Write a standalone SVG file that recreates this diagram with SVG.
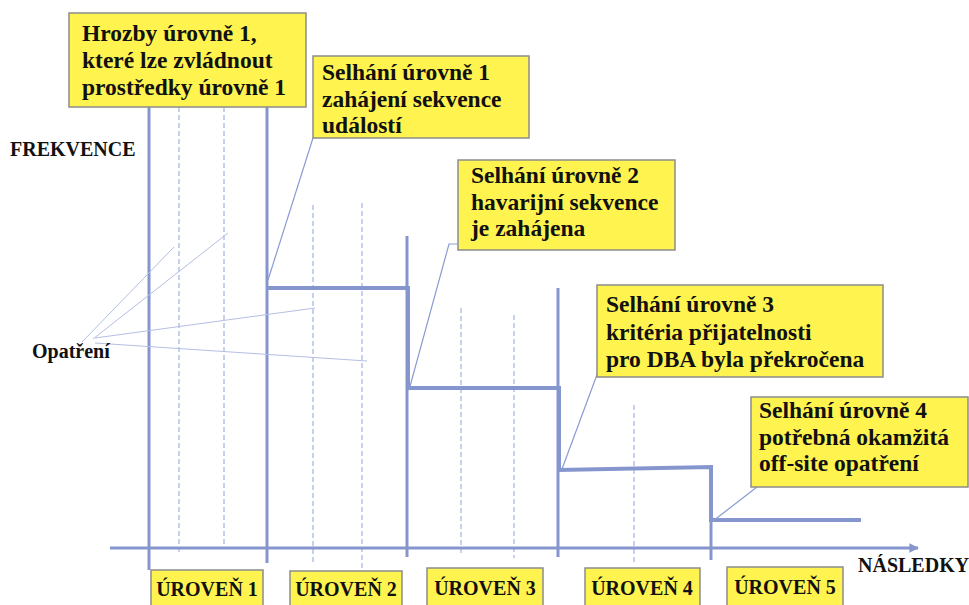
<svg xmlns="http://www.w3.org/2000/svg" width="969" height="605" viewBox="0 0 969 605" font-family="'Liberation Serif', 'DejaVu Serif', serif">
  <style>
    .bg { fill: #ffffff; }
    .box { fill: #fff44f; stroke: #8c8c8c; stroke-width: 1.5; }
    .t { font-weight: bold; fill: #111111; }
    .big { font-size: 23.5px; }
    .lab { font-size: 20px; }
    .div { stroke: #8596cf; stroke-width: 3; fill: none; }
    .step { stroke: #8596cf; stroke-width: 4; fill: none; stroke-linejoin: miter; }
    .dash { stroke: #8fa2dc; stroke-width: 1; stroke-dasharray: 5 3; fill: none; }
    .lead { stroke: #8a9bd3; stroke-width: 1.2; fill: none; }
    .faint { stroke: #b4bfe3; stroke-width: 1; fill: none; }
  </style>
  <defs>
    <marker id="arrowHead" viewBox="0 0 10 10" refX="9" refY="5" markerWidth="3.2" markerHeight="3.2" orient="auto" markerUnits="strokeWidth">
      <path d="M0,0 L10,5 L0,10 z" fill="#8596cf"/>
    </marker>
  </defs>

  <rect class="bg" x="0" y="0" width="969" height="605"/>

  <!-- axes, level dividers, frequency steps and leader lines -->
  <g id="connectors">
    <!-- subdivision guides -->
    <line class="dash" x1="179" y1="107" x2="179" y2="553"/>
    <line class="dash" x1="224" y1="107" x2="224" y2="545"/>
    <line class="dash" x1="313" y1="205" x2="313" y2="565"/>
    <line class="dash" x1="362" y1="203" x2="362" y2="572"/>
    <line class="dash" x1="461" y1="308" x2="461" y2="555"/>
    <line class="dash" x1="514" y1="315" x2="514" y2="558"/>
    <line class="dash" x1="634" y1="405" x2="634" y2="562"/>

    <!-- consequence axis -->
    <line class="div" x1="110" y1="548" x2="918" y2="548" marker-end="url(#arrowHead)"/>

    <!-- level dividers -->
    <line class="div" x1="149" y1="107" x2="149" y2="570"/>
    <line class="div" x1="267" y1="107" x2="267" y2="563"/>
    <line class="div" x1="407" y1="236" x2="407" y2="557"/>
    <line class="div" x1="558" y1="288" x2="558" y2="557"/>
    <line class="div" x1="711" y1="467" x2="711" y2="560"/>

    <!-- frequency staircase -->
    <path class="step" d="M267,288 L408,288 L408,388 L559,388 L559,470 L711,467 L711,520 L861,520"/>

    <!-- leaders from failure boxes -->
    <line class="lead" x1="313" y1="138" x2="268" y2="280"/>
    <path class="lead" d="M458,244 L449,244 L409,390"/>
    <line class="lead" x1="598" y1="372" x2="562" y2="469"/>
    <line class="lead" x1="757" y1="487" x2="713" y2="521"/>

    <!-- leaders from the countermeasures label -->
    <line class="faint" x1="82" y1="342" x2="174" y2="247"/>
    <line class="faint" x1="93" y1="339" x2="228" y2="233"/>
    <line class="faint" x1="95" y1="338" x2="315" y2="308"/>
    <line class="faint" x1="95" y1="343" x2="367" y2="361"/>
  </g>

  <!-- axis titles -->
  <g id="axis-frekvence">
    <text class="t lab" x="10" y="156">FREKVENCE</text>
  </g>
  <g id="axis-nasledky">
    <text class="t lab" x="858" y="572">NÁSLEDKY</text>
  </g>
  <g id="opatreni">
    <text class="t lab" x="32" y="358">Opatření</text>
  </g>

  <!-- callout boxes -->
  <g id="hrozby">
    <rect class="box" x="69" y="13" width="237" height="94"/>
    <text class="t big" x="82" y="41">Hrozby úrovně 1,</text>
    <text class="t big" x="82" y="68">které lze zvládnout</text>
    <text class="t big" x="82" y="95">prostředky úrovně 1</text>
  </g>
  <g id="selhani-1">
    <rect class="box" x="313" y="56" width="216" height="82"/>
    <text class="t big" x="322" y="80">Selhání úrovně 1</text>
    <text class="t big" x="322" y="107">zahájení sekvence</text>
    <text class="t big" x="322" y="133">událostí</text>
  </g>
  <g id="selhani-2">
    <rect class="box" x="458" y="160" width="217" height="90"/>
    <text class="t big" x="471" y="183">Selhání úrovně 2</text>
    <text class="t big" x="471" y="210">havarijní sekvence</text>
    <text class="t big" x="471" y="236">je zahájena</text>
  </g>
  <g id="selhani-3">
    <rect class="box" x="597" y="285" width="286" height="92"/>
    <text class="t big" x="606" y="312">Selhání úrovně 3</text>
    <text class="t big" x="606" y="340">kritéria přijatelnosti</text>
    <text class="t big" x="606" y="367">pro DBA byla překročena</text>
  </g>
  <g id="selhani-4">
    <rect class="box" x="751" y="397" width="217" height="90"/>
    <text class="t big" x="759" y="418">Selhání úrovně 4</text>
    <text class="t big" x="759" y="445">potřebná okamžitá</text>
    <text class="t big" x="759" y="471">off-site opatření</text>
  </g>

  <!-- level labels -->
  <g id="uroven-1">
    <rect class="box" x="151" y="570" width="112" height="42"/>
    <text class="t lab" x="207" y="596" text-anchor="middle">ÚROVEŇ 1</text>
  </g>
  <g id="uroven-2">
    <rect class="box" x="290" y="571" width="112" height="42"/>
    <text class="t lab" x="346" y="596" text-anchor="middle">ÚROVEŇ 2</text>
  </g>
  <g id="uroven-3">
    <rect class="box" x="427" y="568" width="116" height="42"/>
    <text class="t lab" x="485" y="595" text-anchor="middle">ÚROVEŇ 3</text>
  </g>
  <g id="uroven-4">
    <rect class="box" x="585" y="568" width="115" height="42"/>
    <text class="t lab" x="642" y="595" text-anchor="middle">ÚROVEŇ 4</text>
  </g>
  <g id="uroven-5">
    <rect class="box" x="727" y="567" width="116" height="42"/>
    <text class="t lab" x="785" y="594" text-anchor="middle">ÚROVEŇ 5</text>
  </g>
</svg>
